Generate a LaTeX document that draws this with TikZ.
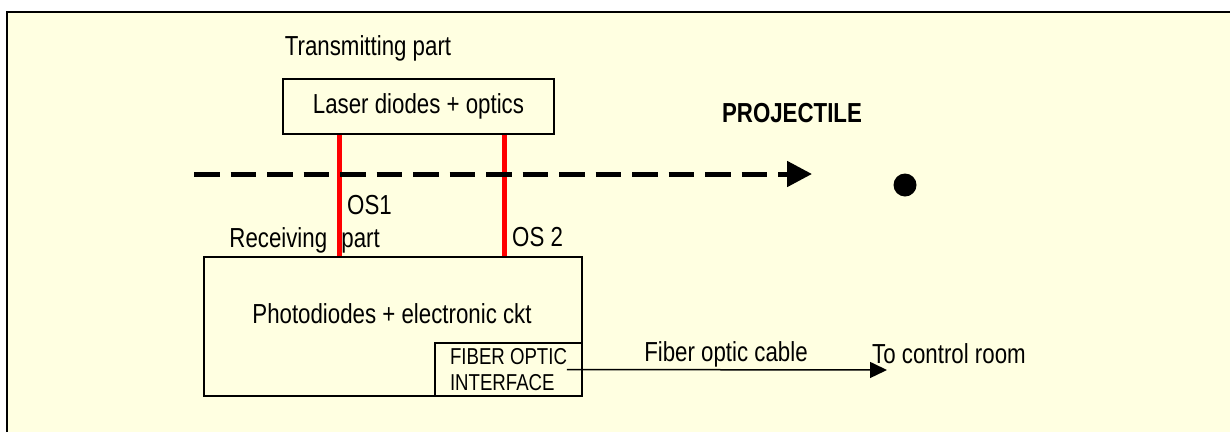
\documentclass[tikz,border=0pt]{standalone}
\usepackage{fontspec}
\setmainfont{Liberation Sans}[FakeStretch=0.81]
\usetikzlibrary{positioning,arrows.meta,calc}
\definecolor{paper}{HTML}{FFFFE1}
\definecolor{beamred}{HTML}{FF0000}

\begin{document}
\begin{tikzpicture}[x=1pt,y=-1pt,
    lbl/.style={font=\fontsize{27.5}{32}\selectfont, inner sep=0pt, anchor=base},
    blockbox/.style={draw, line width=1.5pt, inner sep=0pt},
    beam/.style={beamred, line width=5pt}]
  % Canvas
  \useasboundingbox (0,0) rectangle (1230,432);
  \fill[white] (0,0) rectangle (1230,432);
  \fill[paper] (7,12) rectangle (1230,432);
  \draw[line width=2.5pt] (7,432) -- (7,12) -- (1230,12);

  % Transmitting part
  \node[lbl] (txlabel) at (368,55) {Transmitting part};
  \node[blockbox, minimum width=271pt, minimum height=55pt,
    font=\fontsize{27.5}{32}\selectfont] (laser) at (418.5,106.5) {Laser diodes + optics};

  % Receiving part
  \node[blockbox, minimum width=378pt, minimum height=139pt] (photo) at (393,326.5) {};
  \node[lbl] (photolabel) at (392,323) {Photodiodes + electronic ckt};
  \node[blockbox, minimum width=147pt, minimum height=53pt, anchor=south east,
    align=left, font=\fontsize{23}{26}\selectfont] (iface) at (photo.south east)
    {FIBER OPTIC\\INTERFACE};
  \node[lbl, anchor=base east] (rxlabel) at (380,247) {Receiving\hspace{8pt} part};

  % Optical sensors
  \coordinate (os1x) at (339,0);
  \coordinate (os2x) at (504,0);
  \draw[beam] (laser.south -| os1x) -- (photo.north -| os1x);
  \draw[beam] (laser.south -| os2x) -- (photo.north -| os2x);
  \node[lbl, anchor=base west] (os1) at (347,214) {OS1};
  \node[lbl, anchor=base west] (os2) at (512,246) {OS 2};

  % Projectile path
  \coordinate (pathstart) at (194,174);
  \coordinate (pathend) at (812,174);
  \draw[line width=5pt, dash pattern=on 25.5pt off 11pt,
    -{Triangle[length=25pt,width=25pt]}] (pathstart) -- (pathend);
  \node[circle, fill, minimum size=23pt, inner sep=0pt] (bullet) at (905,185) {};
  \node[lbl, font=\fontsize{27.5}{32}\selectfont\bfseries] (projlabel) at (792,122) {PROJECTILE};

  % Fiber link
  \coordinate (fiberstart) at ([xshift=-16pt]iface.east);
  \coordinate (fiberend) at (887,370);
  \draw[line width=1.5pt, -{Triangle[length=17pt,width=16pt]}] (fiberstart) -- (fiberend);
  \node[lbl] (cablelabel) at (726,361) {Fiber optic cable};
  \node[lbl, anchor=base west] (ctrllabel) at (872,363) {To control room};
\end{tikzpicture}
\end{document}
